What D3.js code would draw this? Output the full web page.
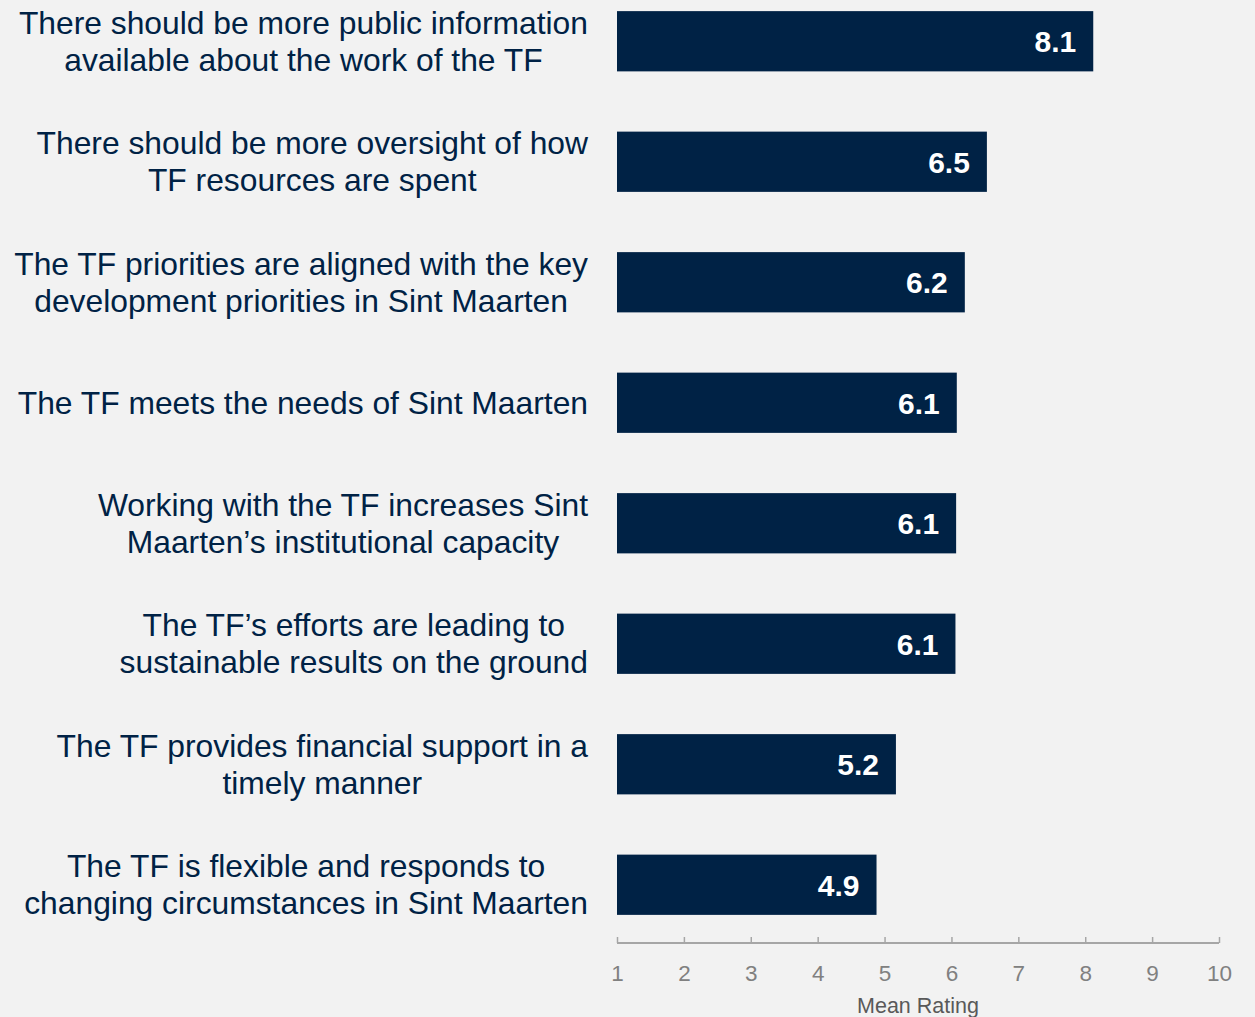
<!DOCTYPE html>
<html>
<head>
<meta charset="utf-8">
<script src="https://cdn.jsdelivr.net/npm/d3@7"></script>
<style>
  body { margin: 0; background: #f2f2f2; }
  svg { display: block; font-family: "Liberation Sans", Arial, sans-serif; }
</style>
</head>
<body>
<div id="chart"></div>
<script>
const labels = [
  ["There should be more public information", "available about the work of the TF"],
  ["There should be more oversight of how", "TF resources are spent"],
  ["The TF priorities are aligned with the key", "development priorities in Sint Maarten"],
  ["The TF meets the needs of Sint Maarten"],
  ["Working with the TF increases Sint", "Maarten\u2019s institutional capacity"],
  ["The TF\u2019s efforts are leading to", "sustainable results on the ground"],
  ["The TF provides financial support in a", "timely manner"],
  ["The TF is flexible and responds to", "changing circumstances in Sint Maarten"]
];
const values = [8.12, 6.53, 6.2, 6.08, 6.07, 6.06, 5.17, 4.88];
const ticks = [1, 2, 3, 4, 5, 6, 7, 8, 9, 10];

const width = 1255, height = 1017;
const navy = "#002245";

const svg = d3.select("#chart")
  .append("svg")
  .attr("width", width)
  .attr("height", height);

svg.append("rect").attr("width", width).attr("height", height).attr("fill", "#f2f2f2");

// scales
const x = d3.scaleLinear().domain([1, 10]).range([617, 1219]);
const y = d3.scaleBand()
  .domain(d3.range(values.length))
  .range([-19, 945])
  .paddingInner(0.5)
  .paddingOuter(0.25);

// bars
svg.selectAll("rect.bar")
  .data(values)
  .enter()
  .append("rect")
  .attr("class", "bar")
  .attr("x", x(1))
  .attr("y", (d, i) => y(i))
  .attr("width", d => x(d) - x(1))
  .attr("height", y.bandwidth())
  .attr("fill", navy);

// value labels
svg.selectAll("text.val")
  .data(values)
  .enter()
  .append("text")
  .attr("class", "val")
  .attr("x", d => x(d) - 17)
  .attr("y", (d, i) => y(i) + y.bandwidth() / 2 + 11)
  .attr("text-anchor", "end")
  .attr("font-size", 30)
  .attr("font-weight", "bold")
  .attr("fill", "#fff")
  .text(d => d.toFixed(1));

// category labels: centered block, right edge at 588
const lineH = 37;
labels.forEach((lines, i) => {
  const g = svg.append("text")
    .attr("font-size", 31.8)
    .attr("fill", navy)
    .attr("text-anchor", "middle");
  const spans = lines.map((l, j) => g.append("tspan").text(l));
  const maxW = d3.max(spans, s => s.node().getComputedTextLength());
  const cx = 588 - maxW / 2;
  const cy = y(i) + y.bandwidth() / 2;
  const top = cy - (lines.length - 1) * lineH / 2 + 11;
  spans.forEach((s, j) => s.attr("x", cx).attr("y", top + j * lineH));
});

// x axis
const axis = svg.append("g")
  .attr("transform", "translate(0, 943)")
  .call(d3.axisTop(x).tickValues(ticks).tickSize(6).tickSizeOuter(0).tickFormat(d3.format("d")));
axis.select(".domain").attr("stroke", "#a6a6a6").attr("stroke-width", 2).attr("d", `M${x(1)},0H${x(10)}`);
axis.selectAll(".tick line").attr("stroke", "#a6a6a6").attr("stroke-width", 1.5);
axis.selectAll(".tick text")
  .attr("y", 38)
  .attr("dy", 0)
  .attr("fill", "#808080")
  .attr("font-size", 22.5)
  .attr("font-family", "Liberation Sans, Arial, sans-serif");

// x label
svg.append("text")
  .attr("x", 918)
  .attr("y", 1013)
  .attr("text-anchor", "middle")
  .attr("font-size", 21.5)
  .attr("fill", "#595959")
  .text("Mean Rating");
</script>
</body>
</html>
